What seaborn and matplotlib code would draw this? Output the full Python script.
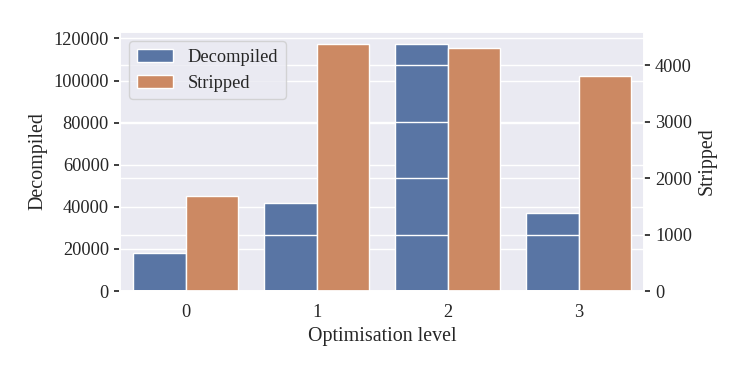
import numpy as np
import pandas as pd
import matplotlib
matplotlib.use("Agg")
import matplotlib.pyplot as plt
import matplotlib.patches as mpatches
import seaborn as sns

levels = ["0", "1", "2", "3"]
series = ["Decompiled", "Stripped"]
decompiled = [18000, 41600, 117200, 36900]
stripped = [1675, 4370, 4300, 3805]

sns.set_theme(style="darkgrid", font_scale=1.2)
plt.rcParams["font.family"] = ["Liberation Serif", "DejaVu Serif"]

df = pd.DataFrame({
    "level": levels * 2,
    "series": ["Decompiled"] * 4 + ["Stripped"] * 4,
    "value": decompiled + stripped,
})
df1 = df.copy()
df1.loc[df1["series"] == "Stripped", "value"] = np.nan
df2 = df.copy()
df2.loc[df2["series"] == "Decompiled", "value"] = np.nan

palette = dict(zip(series, sns.color_palette("deep", 2)))

fig = plt.figure(figsize=(7.47, 3.74), dpi=100)
ax1 = fig.add_axes([120 / 747, 1 - 291 / 374, 524 / 747, 259 / 374])
ax2 = ax1.twinx()

sns.barplot(data=df1, x="level", y="value", hue="series", hue_order=series,
            order=levels, palette=palette, ax=ax1, legend=False, edgecolor="white")
sns.barplot(data=df2, x="level", y="value", hue="series", hue_order=series,
            order=levels, palette=palette, ax=ax2, legend=False, edgecolor="white")

ax1.set_xlabel("Optimisation level")
ax1.set_ylabel("Decompiled")
ax2.set_ylabel("Stripped")
ax1.tick_params(axis="y", left=True, length=4.5, color="#262626")
ax2.tick_params(axis="y", right=True, length=4.5, color="#262626")
ax1.xaxis.grid(False)
ax2.xaxis.grid(False)

handles = []
for s, ax in zip(series, [ax1, ax2]):
    fc = None
    for p in ax.patches:
        if p.get_height() > 0:
            fc = p.get_facecolor()
            break
    handles.append(mpatches.Patch(facecolor=fc, edgecolor="white", label=s))
ax2.legend(handles=handles, loc="upper left")

fig.savefig("out.png", dpi=100)
